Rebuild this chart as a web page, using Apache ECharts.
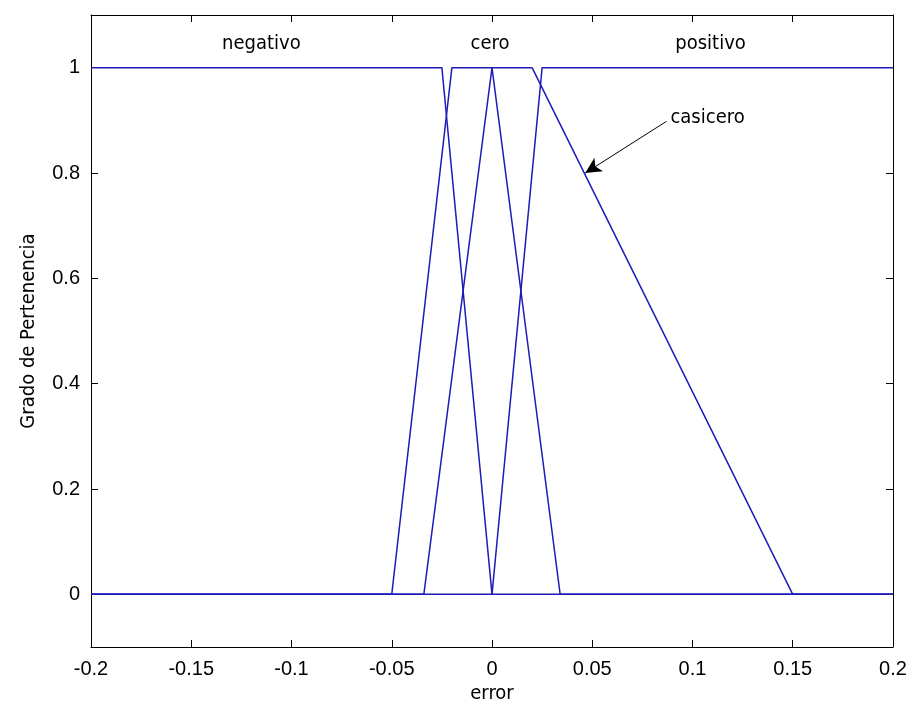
<!DOCTYPE html>
<html>
<head>
<meta charset="utf-8">
<script src="https://cdn.jsdelivr.net/npm/echarts@6/dist/echarts.min.js"></script>
<style>
html,body{margin:0;padding:0;background:#fff;}
#chart{width:912px;height:710px;}
</style>
</head>
<body>
<div id="chart"></div>
<script>
// Membership function breakpoints (error, grade)
const negativoX = [-0.2, -0.025, 0, 0.2];
const negativoY = [1, 1, 0, 0];
const ceroX = [-0.2, -0.034, 0, 0.034, 0.2];
const ceroY = [0, 0, 1, 0, 0];
const positivoX = [-0.2, 0, 0.025, 0.2];
const positivoY = [0, 0, 1, 1];
const casiceroX = [-0.2, -0.05, -0.02, 0.02, 0.15, 0.2];
const casiceroY = [0, 0, 1, 1, 0, 0];

// Tick labels
const xTicks = [-0.2, -0.15, -0.1, -0.05, 0, 0.05, 0.1, 0.15, 0.2];
const xTickLabels = ['-0.2', '-0.15', '-0.1', '-0.05', '0', '0.05', '0.1', '0.15', '0.2'];
const yTicks = [0, 0.2, 0.4, 0.6, 0.8, 1];
const yTickLabels = ['0', '0.2', '0.4', '0.6', '0.8', '1'];

// Text annotations (data coordinates)
const labelText = ['negativo', 'cero', 'positivo', 'casicero'];
const labelX = [-0.115, -0.001, 0.109, 0.089];
const labelY = [1.045, 1.045, 1.045, 0.905];
const arrowFrom = [0.087, 0.898];
const arrowTo = [0.0465, 0.8];

const lineColor = '#1c1cb8';
const condensed = "'Liberation Sans Narrow','DejaVu Sans Condensed','Liberation Sans',sans-serif";
const tickFont = "'Liberation Sans',Arial,sans-serif";

function pts(xs, ys) { return xs.map((x, i) => [x, ys[i]]); }
function mfSeries(name, xs, ys) {
  return {
    name: name, type: 'line', data: pts(xs, ys), showSymbol: false, symbol: 'none',
    lineStyle: { color: lineColor, width: 1.5 }, animation: false, z: 3
  };
}

const chart = echarts.init(document.getElementById('chart'));
const xLabelMap = {};
xTicks.forEach((v, i) => xLabelMap[v.toFixed(3)] = xTickLabels[i]);
const yLabelMap = {};
yTicks.forEach((v, i) => yLabelMap[v.toFixed(3)] = yTickLabels[i]);

const axisLineStyle = { show: true, onZero: false, lineStyle: { color: '#000', width: 1 } };
const tickStyle = { inside: true, length: 7, lineStyle: { color: '#000', width: 1 } };

chart.setOption({
  backgroundColor: '#fff',
  animation: false,
  grid: { left: 91, top: 15, width: 802, height: 632, containLabel: false },
  xAxis: [
    {
      type: 'value', min: -0.2, max: 0.2, position: 'bottom',
      name: 'error', nameLocation: 'middle', nameGap: 34,
      nameTextStyle: { fontFamily: condensed, fontSize: 20, color: '#000' },
      axisLine: axisLineStyle,
      axisTick: Object.assign({ customValues: xTicks }, tickStyle),
      axisLabel: {
        customValues: xTicks, margin: 12, fontFamily: tickFont, fontSize: 20, color: '#000',
        formatter: v => xLabelMap[(+v).toFixed(3)] || ''
      },
      splitLine: { show: false }
    },
    {
      type: 'value', min: -0.2, max: 0.2, position: 'top',
      axisLine: axisLineStyle,
      axisTick: Object.assign({ customValues: xTicks }, tickStyle),
      axisLabel: { show: false }, splitLine: { show: false }
    }
  ],
  yAxis: [
    {
      type: 'value', min: -0.1, max: 1.1, position: 'left',
      name: 'Grado de Pertenencia', nameLocation: 'middle', nameGap: 52, nameRotate: 90,
      nameTextStyle: { fontFamily: condensed, fontSize: 20, color: '#000' },
      axisLine: axisLineStyle,
      axisTick: Object.assign({ customValues: yTicks }, tickStyle),
      axisLabel: {
        customValues: yTicks, margin: 11, fontFamily: tickFont, fontSize: 20, color: '#000',
        formatter: v => yLabelMap[(+v).toFixed(3)] || ''
      },
      splitLine: { show: false }
    },
    {
      type: 'value', min: -0.1, max: 1.1, position: 'right',
      axisLine: axisLineStyle,
      axisTick: Object.assign({ customValues: yTicks }, tickStyle),
      axisLabel: { show: false }, splitLine: { show: false }
    }
  ],
  series: [
    mfSeries('negativo', negativoX, negativoY),
    mfSeries('cero', ceroX, ceroY),
    mfSeries('positivo', positivoX, positivoY),
    mfSeries('casicero', casiceroX, casiceroY),
    {
      type: 'scatter', symbolSize: 0, animation: false, silent: true,
      itemStyle: { opacity: 1 },
      data: labelText.map((t, i) => ({
        value: [labelX[i], labelY[i]],
        label: {
          show: true, formatter: t,
          position: i === 3 ? 'right' : 'inside',
          distance: 0,
          fontFamily: condensed, fontSize: 20, color: '#000', opacity: 1
        }
      })),
      markLine: {
        silent: true, animation: false,
        symbol: ['none', 'arrow'], symbolSize: [12, 16],
        lineStyle: { color: '#000', width: 1, type: 'solid' },
        label: { show: false },
        data: [[{ coord: arrowFrom }, { coord: arrowTo }]]
      }
    }
  ]
});
</script>
</body>
</html>
